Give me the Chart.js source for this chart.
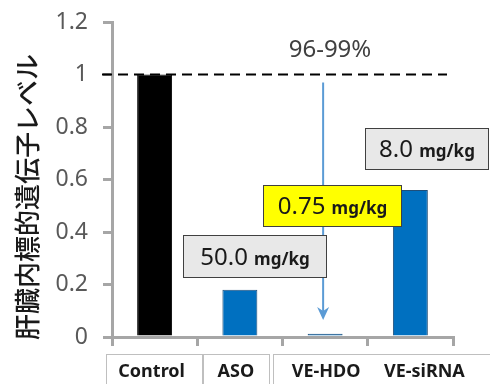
<!DOCTYPE html>
<html>
<head>
<meta charset="utf-8">
<script src="https://cdn.jsdelivr.net/npm/chart.js@4"></script>
<style>
  html, body { margin: 0; padding: 0; background: #ffffff; }
  canvas { display: block; }
</style>
</head>
<body>
<canvas id="c" width="490" height="384"></canvas>
<script>
// ---- data ----
const categories = ['Control', 'ASO', 'VE-HDO', 'VE-siRNA'];
const values = [1.0, 0.18, 0.012, 0.56];
const barColors = ['#000000', '#0070C0', '#0070C0', '#0070C0'];
const yTickLabels = ['0', '0.2', '0.4', '0.6', '0.8', '1', '1.2'];
const doseAmounts = ['', '50.0', '0.75', '8.0'];
const doseUnit = 'mg/kg';
const referenceLevel = 1;
const reductionLabel = '96-99%';
const yTitle = '肝臓内標的遺伝子レベル';

// ---- styling / layout (not data) ----
const AXIS_COLOR = '#a6a6a6';
const labelOffsets = [-3, -4, 1, 14];
const labelBoxes = [[106, 202], [203, 269], [273, 492], null];
const doseBoxes = [null,
  {x: 183, y: 235, w: 144, h: 43, fill: '#e8e8e8'},
  {x: 263, y: 185, w: 139, h: 42, fill: '#ffff00'},
  {x: 365, y: 128, w: 124, h: 42, fill: '#e8e8e8'}];

const overlay = {
  id: 'overlay',
  afterDraw(chart) {
    const ctx = chart.ctx;
    const xs = chart.scales.x, ys = chart.scales.y;
    const area = chart.chartArea;

    // dashed reference line
    const yRef = ys.getPixelForValue(referenceLevel);
    ctx.save();
    ctx.strokeStyle = '#000000';
    ctx.lineWidth = 2;
    ctx.setLineDash([10, 6]);
    ctx.beginPath();
    ctx.moveTo(area.left - 10, yRef);
    ctx.lineTo(area.right - 6, yRef);
    ctx.stroke();
    ctx.restore();

    // percentage label
    ctx.save();
    ctx.fillStyle = '#404040';
    ctx.font = '24px "Noto Sans"';
    ctx.textAlign = 'center';
    ctx.textBaseline = 'middle';
    ctx.fillText(reductionLabel, 330, 50);
    ctx.restore();

    // arrow
    const ax = xs.getPixelForValue(2) - 2;
    const yTip = ys.getPixelForValue(0) - 17;
    ctx.save();
    ctx.strokeStyle = '#5b9bd5';
    ctx.fillStyle = '#5b9bd5';
    ctx.lineWidth = 2;
    ctx.beginPath();
    ctx.moveTo(ax, yRef + 8);
    ctx.lineTo(ax, yTip - 8);
    ctx.stroke();
    ctx.beginPath();
    ctx.moveTo(ax - 6, yTip - 13);
    ctx.lineTo(ax, yTip);
    ctx.lineTo(ax + 6, yTip - 13);
    ctx.lineTo(ax, yTip - 9);
    ctx.closePath();
    ctx.fill();
    ctx.restore();

    // dose boxes
    doseBoxes.forEach((b, i) => {
      if (!b || !doseAmounts[i]) return;
      ctx.save();
      ctx.fillStyle = b.fill;
      ctx.fillRect(b.x, b.y, b.w, b.h);
      ctx.strokeStyle = '#404040';
      ctx.lineWidth = 1;
      ctx.strokeRect(b.x + 0.5, b.y + 0.5, b.w - 1, b.h - 1);
      const numFont = '24px "Noto Sans"';
      const unitFont = 'bold 17px "Noto Sans"';
      ctx.font = numFont;
      const w1 = ctx.measureText(doseAmounts[i] + ' ').width;
      ctx.font = unitFont;
      const w2 = ctx.measureText(doseUnit).width;
      let tx = b.x + (b.w - w1 - w2) / 2;
      const ty = b.y + b.h / 2 + 8;
      ctx.fillStyle = '#1a1a1a';
      ctx.textBaseline = 'alphabetic';
      ctx.font = numFont;
      ctx.fillText(doseAmounts[i] + ' ', tx, ty);
      ctx.font = unitFont;
      ctx.fillText(doseUnit, tx + w1, ty);
      ctx.restore();
    });

    // category label boxes and labels
    ctx.save();
    ctx.strokeStyle = '#bfbfbf';
    ctx.lineWidth = 1;
    labelBoxes.forEach(b => {
      if (!b) return;
      ctx.strokeRect(b[0] + 0.5, 354.5, b[1] - b[0], 40);
    });
    ctx.fillStyle = '#1a1a1a';
    ctx.font = 'bold 18px "Noto Sans"';
    ctx.textAlign = 'center';
    ctx.textBaseline = 'alphabetic';
    categories.forEach((c, i) => {
      ctx.fillText(c, xs.getPixelForValue(i) + labelOffsets[i], 377);
    });
    ctx.restore();

    // y axis title
    ctx.save();
    ctx.translate(27, 197);
    ctx.rotate(-Math.PI / 2);
    ctx.fillStyle = '#1a1a1a';
    ctx.font = '500 26px "Noto Sans CJK JP"';
    ctx.textAlign = 'center';
    ctx.textBaseline = 'middle';
    ctx.fillText(yTitle, 0, 0);
    ctx.restore();
  }
};

new Chart(document.getElementById('c'), {
  type: 'bar',
  data: {
    labels: categories,
    datasets: [{
      data: values,
      backgroundColor: barColors,
      borderColor: ['#000000', '#1f4e79', '#1f4e79', '#1f4e79'],
      borderWidth: 1,
      categoryPercentage: 1,
      barPercentage: 0.41
    }]
  },
  options: {
    responsive: false,
    animation: false,
    layout: { padding: { left: 0, right: 37, top: 22, bottom: 0 } },
    plugins: { legend: { display: false }, tooltip: { enabled: false } },
    scales: {
      x: {
        afterFit(s) { s.height = 47; s.paddingLeft = 0; s.paddingRight = 0; },
        ticks: { display: false },
        grid: { offset: true, drawOnChartArea: false, drawTicks: true, tickLength: 9, color: AXIS_COLOR, lineWidth: 3 },
        border: { display: true, color: AXIS_COLOR, width: 3 }
      },
      y: {
        min: 0, max: 1.2,
        afterFit(s) { s.width = 112; s.paddingTop = 0; s.paddingBottom = 0; },
        ticks: {
          stepSize: 0.2,
          padding: 15,
          color: '#595959',
          font: { family: '"Noto Sans"', size: 23 },
          callback: (v, i) => yTickLabels[i]
        },
        grid: { drawOnChartArea: false, drawTicks: true, tickLength: 9, color: AXIS_COLOR, lineWidth: 3 },
        border: { display: true, color: AXIS_COLOR, width: 3 }
      }
    }
  },
  plugins: [overlay]
});
</script>
</body>
</html>
